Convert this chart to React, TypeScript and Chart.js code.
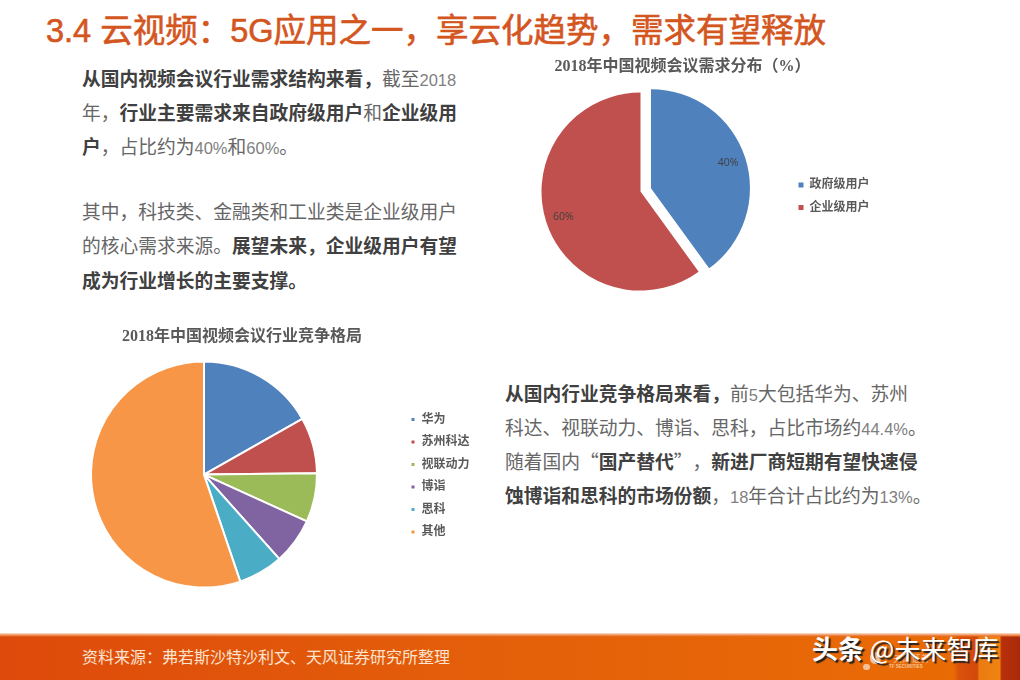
import { useEffect, useRef } from 'react';
import { Chart, registerables } from 'chart.js';

Chart.register(...registerables);

const FONT = '"Noto Sans CJK SC", "Liberation Sans", sans-serif';
const HEAD_FONT = '"Liberation Sans", "Noto Sans CJK SC", sans-serif';
const CHART_FONT = '"Liberation Serif", "Noto Sans CJK SC", serif';

const demandLabels = ['政府级用户', '企业级用户'];
const demandValues = [40, 60];
const demandColors = ['#4F81BD', '#C0504D'];
const demandExplode = [11, 0];

const vendorLabels = ['华为', '苏州科达', '视联动力', '博诣', '思科', '其他'];
const vendorValues = [16.8, 8.0, 7.0, 6.6, 6.4, 55.2];
const vendorColors = ['#4F81BD', '#C0504D', '#9BBB59', '#8064A2', '#4BACC6', '#F79646'];
const vendorExplode = [0, 0, 0, 0, 0, 0];

// the arc "offset" option also grows the slice, so pull slices out by moving the element
const explodeSlices = {
  id: 'explodeSlices',
  afterDatasetsUpdate(chart: any, _args: any, opts: any) {
    chart.getDatasetMeta(0).data.forEach((arc: any, i: number) => {
      const mid = (arc.startAngle + arc.endAngle) / 2;
      arc.x += Math.cos(mid) * opts.amounts[i];
      arc.y += Math.sin(mid) * opts.amounts[i];
    });
  },
};

// percent labels inside the slices
const sliceLabels = {
  id: 'sliceLabels',
  afterDatasetsDraw(chart: any, _args: any, opts: any) {
    if (!opts.show) return;
    const { ctx } = chart;
    ctx.save();
    ctx.font = '10.5px "Open Sans", sans-serif';
    ctx.fillStyle = '#404040';
    ctx.textAlign = 'center';
    ctx.textBaseline = 'middle';
    chart.getDatasetMeta(0).data.forEach((arc: any, i: number) => {
      const mid = (arc.startAngle + arc.endAngle) / 2;
      const r = arc.outerRadius * 0.82;
      const value = chart.data.datasets[0].data[i];
      ctx.fillText(value + '%', arc.x + Math.cos(mid) * r, arc.y + Math.sin(mid) * r);
    });
    ctx.restore();
  },
};

function Pie({ title, labels, values, colors, explode, border, radius, style, showLabels, titleBottom, legendMax, legendShift, rightPad }: any) {
  const canvasRef = useRef<HTMLCanvasElement>(null);

  useEffect(() => {
    if (!canvasRef.current) return;
    const chart = new Chart(canvasRef.current, {
      type: 'pie',
      data: {
        labels,
        datasets: [{
          data: values,
          backgroundColor: colors,
          borderColor: '#ffffff',
          borderWidth: border,
          radius,
        }],
      },
      plugins: [explodeSlices, sliceLabels],
      options: {
        animation: false,
        responsive: false,
        layout: { padding: { right: rightPad } },
        plugins: {
          title: {
            display: true,
            text: title,
            color: '#595959',
            font: { family: CHART_FONT, size: 16, weight: 'bold' },
            padding: { top: 2, bottom: titleBottom },
          },
          legend: {
            position: 'right',
            fullSize: false,
            maxWidth: legendMax,
            // an empty legend title nudges the entries down
            title: { display: true, text: '', font: { size: 1 }, padding: { top: legendShift, bottom: 0 } },
            labels: {
              boxWidth: 5,
              boxHeight: 5,
              padding: 10.5,
              color: '#595959',
              font: { family: CHART_FONT, size: 12, weight: 'bold' },
            },
          },
          tooltip: { enabled: false },
          explodeSlices: { amounts: explode },
          sliceLabels: { show: showLabels },
        },
      },
    } as any);
    return () => chart.destroy();
  }, []);

  return (
    <canvas
      ref={canvasRef}
      width={style.width}
      height={style.height}
      style={{ position: 'absolute', ...style }}
    />
  );
}

const B = ({ children }: any) => <b style={{ color: '#404040' }}>{children}</b>;
// the digits in the source slide are thin and narrow
const N = ({ children }: any) => <span style={{ fontFamily: HEAD_FONT, fontSize: 16.5, color: '#7F7F7F' }}>{children}</span>;

function Line({ x, y, children }: any) {
  return (
    <div style={{ position: 'absolute', left: x, top: y, fontSize: 18.75, lineHeight: '24px', whiteSpace: 'nowrap', color: '#666666', textSpacingTrim: 'space-all', fontFeatureSettings: '"palt" 0, "chws" 0' } as any}>
      {children}
    </div>
  );
}

export default function App() {
  useEffect(() => {
    document.body.style.margin = '0';
  }, []);

  return (
    <div style={{ position: 'relative', width: 1020, height: 680, overflow: 'hidden', background: '#fff', fontFamily: FONT }}>
      <div style={{ position: 'absolute', left: 46, top: 10, fontFamily: HEAD_FONT, fontSize: 32.5, lineHeight: '42px', color: '#D4561F', whiteSpace: 'nowrap', WebkitTextStroke: '0.6px #D4561F' }}>
        3.4 云视频：5G应用之一，享云化趋势，需求有望释放
      </div>

      <Line x={82} y={66}><B>从国内视频会议行业需求结构来看，</B>截至<N>2018</N></Line>
      <Line x={82} y={100}>年，<B>行业主要需求来自政府级用户</B>和<B>企业级用</B></Line>
      <Line x={82} y={134}><B>户</B>，占比约为<N>40%</N>和<N>60%</N>。</Line>
      <Line x={82} y={199}>其中，科技类、金融类和工业类是企业级用户</Line>
      <Line x={82} y={233}>的核心需求来源。<B>展望未来，企业级用户有望</B></Line>
      <Line x={82} y={268}><B>成为行业增长的主要支撑。</B></Line>

      <Line x={505} y={381}><B>从国内行业竞争格局来看，</B>前<N>5</N>大包括华为、苏州</Line>
      <Line x={505} y={415}>科达、视联动力、博诣、思科，占比市场约<N>44.4%</N>。</Line>
      <Line x={505} y={449}>随着国内“<B>国产替代</B>”，<B>新进厂商短期有望快速侵</B></Line>
      <Line x={505} y={483}><B>蚀博诣和思科的市场份额</B>，<N>18</N>年合计占比约为<N>13%</N>。</Line>

      <Pie
        title="2018年中国视频会议需求分布（%）"
        labels={demandLabels}
        values={demandValues}
        colors={demandColors}
        explode={demandExplode}
        border={0}
        radius={99}
        showLabels
        titleBottom={8}
        legendMax={84}
        legendShift={8}
        rightPad={10}
        style={{ left: 493, top: 55, width: 389, height: 244 }}
      />
      <Pie
        title="2018年中国视频会议行业竞争格局"
        labels={vendorLabels}
        values={vendorValues}
        colors={vendorColors}
        explode={vendorExplode}
        border={2}
        radius={113}
        showLabels={false}
        titleBottom={13}
        legendMax={76}
        legendShift={1}
        rightPad={6}
        style={{ left: 8, top: 325, width: 474, height: 265 }}
      />

      {/* footer band */}
      <div style={{ position: 'absolute', left: 0, top: 633, width: 1020, height: 47, background: 'linear-gradient(180deg, #FBE3D0 0px, #E8702A 3px, transparent 4px), linear-gradient(90deg, #DE4A0B 0%, #E4600A 50%, #E96B05 93.5%, #D9520A 94%, #D2480C 95.8%, #EC7A10 96%, #F08412 98%, #B8300A 98.2%, #A82A0A 100%)' }} />
      <div style={{ position: 'absolute', left: 82, top: 645, fontSize: 16, lineHeight: '22px', color: '#FBE3D0', whiteSpace: 'nowrap' }}>
        资料来源：弗若斯沙特沙利文、天风证券研究所整理
      </div>
      {/* faint logo under the watermark */}
      <div style={{ position: 'absolute', left: 893, top: 654, fontSize: 9, lineHeight: '10px', fontWeight: 700, color: '#F0A868', whiteSpace: 'nowrap', letterSpacing: 0.3 }}>天风证券</div>
      <div style={{ position: 'absolute', left: 889, top: 664, fontFamily: HEAD_FONT, fontSize: 4.5, lineHeight: '6px', fontWeight: 700, color: '#F5C79A', whiteSpace: 'nowrap' }}>TF SECURITIES</div>
      <div style={{ position: 'absolute', left: 870, top: 652, width: 11, height: 12, borderRadius: 6, background: '#F3C299' }} />
      <div style={{ position: 'absolute', left: 863, top: 664, width: 7, height: 6, borderRadius: 4, background: '#F3C299' }} />
      <div style={{ position: 'absolute', left: 812, top: 632, fontSize: 26, lineHeight: '32px', color: '#fff', whiteSpace: 'nowrap', textShadow: '2px 2px 1px #222' }}>
        <b>头条</b> @未来智库
      </div>
    </div>
  );
}
